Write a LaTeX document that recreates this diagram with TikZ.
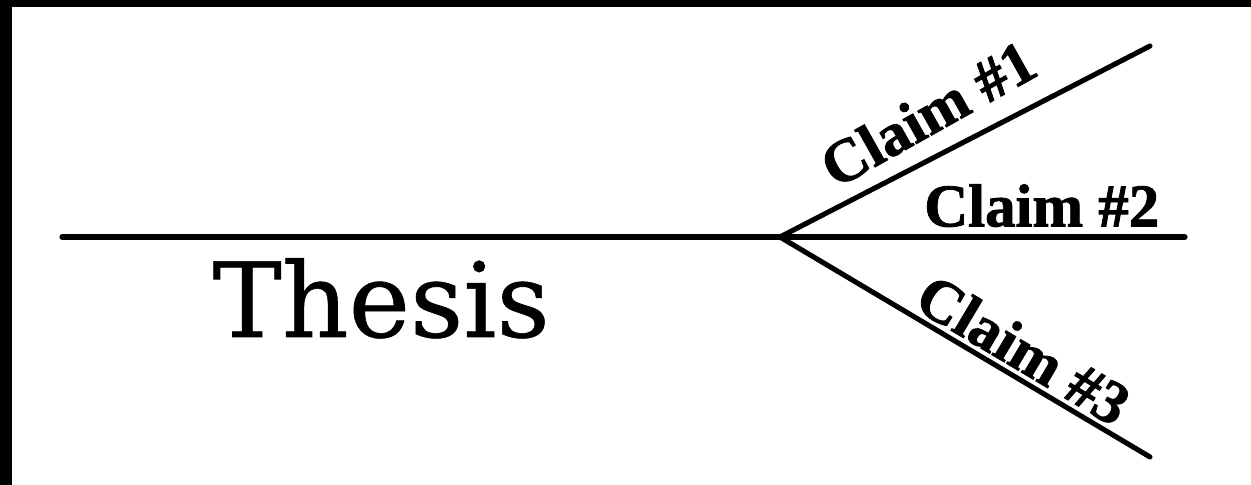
\documentclass[tikz,border=0pt]{standalone}
\usepackage{fontspec}
\setmainfont{Liberation Serif}
\newfontfamily\thesisfont[FakeBold=0.6]{DejaVu Serif}
\newfontfamily\claimfont[BoldFeatures={FakeBold=1.4}]{Liberation Serif}
\usetikzlibrary{positioning}
\tikzset{
  tline/.style={line width=1.45pt, line cap=round},
  tlabel/.style={font=\claimfont\fontsize{17.3}{20}\selectfont\bfseries, inner sep=0pt, sloped},
  tthesis/.style={font=\thesisfont\fontsize{29.5}{34}\selectfont, inner sep=0pt},
  tband/.style={fill=black, draw=none}
}

\begin{document}
\begin{tikzpicture}[x=0.01cm,y=0.01cm]
\useasboundingbox (0,0) rectangle (1251,485);
\fill[tband] (0,478) rectangle (1251,485);
\fill[tband] (0,0) rectangle (12,485);
\coordinate (start) at (62,248);
\coordinate (fork) at (780,248);
\coordinate (end1) at (1150,439);
\coordinate (end2) at (1185,248);
\coordinate (end3) at (1150,28);
\draw[tline] (start) -- (fork);
\draw[tline] (fork) -- (end1) node[tlabel, pos=0.455, anchor=base, rotate=2, yshift=6] (claim1) {Claim \#1};
\draw[tline] (fork) -- (end2) node[tlabel, pos=0.35, anchor=base west, yshift=3] (claim2) {Claim \#2};
\draw[tline] (fork) -- (end3) node[tlabel, pos=0.62, anchor=base, yshift=2] (claim3) {Claim \#3};
\node[tthesis, anchor=base west] (thesis) at (212,148) {Thesis};
\end{tikzpicture}
\end{document}
